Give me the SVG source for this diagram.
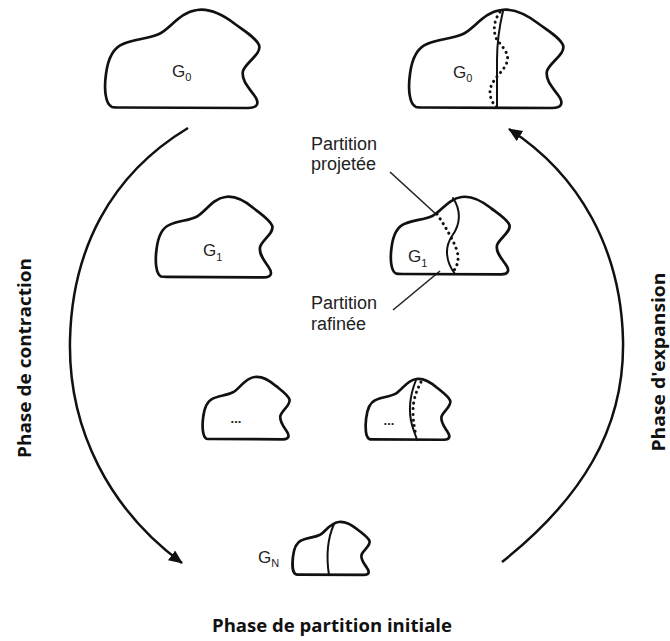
<svg xmlns="http://www.w3.org/2000/svg" width="670" height="641" viewBox="0 0 670 641">
<style>
.blob{fill:none;stroke:#111;stroke-width:2.7;stroke-linejoin:round}
.part{fill:none;stroke:#111;stroke-width:2;stroke-linecap:round}
.dots{fill:none;stroke:#111;stroke-width:3;stroke-linecap:round;stroke-dasharray:0.1 5.5}
.lbl{font-family:"Liberation Sans",Arial,sans-serif;fill:#222;font-size:17px}
.sub{font-size:11px}
.dd{font-family:"Liberation Sans",Arial,sans-serif;fill:#222;font-size:13px;font-weight:700}
.ann{font-family:"Liberation Sans",Arial,sans-serif;fill:#222;font-size:18px}
.phase{font-family:"Open Sans","Liberation Sans",sans-serif;font-weight:700;fill:#111;font-size:17px}
.conn{fill:none;stroke:#111;stroke-width:2.5}
.lead{fill:none;stroke:#222;stroke-width:1.6}
</style>
<defs>
<marker id="ah" markerUnits="userSpaceOnUse" markerWidth="16" markerHeight="14" refX="13" refY="6" orient="auto">
<path d="M0,0 L14,6 L0,12 Z" fill="#111"/>
</marker>
</defs>

<g id="connectors">
<path class="conn" d="M188,128 C110,175 72,250 70,340 C68,430 110,510 182,563" marker-end="url(#ah)"/>
<path class="conn" d="M502,562 C580,500 625,430 623,340 C621,250 580,175 509,129" marker-end="url(#ah)"/>
<line class="lead" x1="390" y1="172" x2="437" y2="215"/>
<line class="lead" x1="393" y1="310" x2="440" y2="271"/>
</g>

<g id="g0-left">
<path class="blob" vector-effect="non-scaling-stroke" d="M112,107 C105,104 104,88 106,74 C108,58 113,48 123,44 C134,39 148,39 159,34 C170,29 180,12 197,10 C210,8 222,14 235,24 C246,32 256,38 259,45 C262,54 246,62 243,71 C241,80 249,88 254,95 C260,103 258,108 248,108 L120,107.5 C116,107.5 114,107.5 112,107 Z"/>
<text class="lbl" x="172" y="77">G<tspan class="sub" dy="4">0</tspan></text>
</g>

<g id="g0-right">
<path class="blob" vector-effect="non-scaling-stroke" transform="translate(304,0)" d="M112,107 C105,104 104,88 106,74 C108,58 113,48 123,44 C134,39 148,39 159,34 C170,29 180,12 197,10 C210,8 222,14 235,24 C246,32 256,38 259,45 C262,54 246,62 243,71 C241,80 249,88 254,95 C260,103 258,108 248,108 L120,107.5 C116,107.5 114,107.5 112,107 Z"/>
<path class="part" d="M503,11 C499,28 497,42 497,60 C497,80 497,95 497,108"/>
<path class="dots" d="M500,12 C494,20 493,30 496,38 C500,45 510,52 507,62 C504,72 490,80 490,92 C490,100 494,105 497,107"/>
<text class="lbl" x="453" y="78">G<tspan class="sub" dy="4">0</tspan></text>
</g>

<g id="g1-left">
<path class="blob" vector-effect="non-scaling-stroke" transform="translate(155,197) scale(0.756,0.82) translate(-104,-10)" d="M112,107 C105,104 104,88 106,74 C108,58 113,48 123,44 C134,39 148,39 159,34 C170,29 180,12 197,10 C210,8 222,14 235,24 C246,32 256,38 259,45 C262,54 246,62 243,71 C241,80 249,88 254,95 C260,103 258,108 248,108 L120,107.5 C116,107.5 114,107.5 112,107 Z"/>
<text class="lbl" x="203" y="256">G<tspan class="sub" dy="5">1</tspan></text>
</g>

<g id="g1-right">
<path class="blob" vector-effect="non-scaling-stroke" transform="translate(390,197) scale(0.77,0.79) translate(-104,-10)" d="M112,107 C105,104 104,88 106,74 C108,58 113,48 123,44 C134,39 148,39 159,34 C170,29 180,12 197,10 C210,8 222,14 235,24 C246,32 256,38 259,45 C262,54 246,62 243,71 C241,80 249,88 254,95 C260,103 258,108 248,108 L120,107.5 C116,107.5 114,107.5 112,107 Z"/>
<path class="part" d="M453,198 C461,210 461,224 452,236 C444,248 446,262 455,274"/>
<path class="dots" d="M437,214 C445,226 452,238 456,248 C460,258 458,266 452,273"/>
<text class="lbl" x="408" y="262">G<tspan class="sub" dy="5">1</tspan></text>
<text class="ann" x="311" y="150">Partition</text>
<text class="ann" x="311" y="170">projetée</text>
<text class="ann" x="311" y="309">Partition</text>
<text class="ann" x="311" y="330">rafinée</text>
</g>

<g id="gdots-left">
<path class="blob" vector-effect="non-scaling-stroke" transform="translate(202,377) scale(0.564,0.636) translate(-104,-10)" d="M112,107 C105,104 104,88 106,74 C108,58 113,48 123,44 C134,39 148,39 159,34 C170,29 180,12 197,10 C210,8 222,14 235,24 C246,32 256,38 259,45 C262,54 246,62 243,71 C241,80 249,88 254,95 C260,103 258,108 248,108 L120,107.5 C116,107.5 114,107.5 112,107 Z"/>
<text class="dd" x="236" y="423" text-anchor="middle">...</text>
</g>

<g id="gdots-right">
<path class="blob" vector-effect="non-scaling-stroke" transform="translate(365,379) scale(0.55,0.62) translate(-104,-10)" d="M112,107 C105,104 104,88 106,74 C108,58 113,48 123,44 C134,39 148,39 159,34 C170,29 180,12 197,10 C210,8 222,14 235,24 C246,32 256,38 259,45 C262,54 246,62 243,71 C241,80 249,88 254,95 C260,103 258,108 248,108 L120,107.5 C116,107.5 114,107.5 112,107 Z"/>
<path class="part" d="M416,380 C410,395 408,410 412,425 C414,432 416,436 417,440"/>
<path class="dots" d="M421,382 C416,392 413,400 413,412 C413,422 415,430 416,436"/>
<text class="dd" x="389" y="425" text-anchor="middle">...</text>
</g>

<g id="gn">
<path class="blob" vector-effect="non-scaling-stroke" transform="translate(292,522) scale(0.5,0.54) translate(-104,-10)" d="M112,107 C105,104 104,88 106,74 C108,58 113,48 123,44 C134,39 148,39 159,34 C170,29 180,12 197,10 C210,8 222,14 235,24 C246,32 256,38 259,45 C262,54 246,62 243,71 C241,80 249,88 254,95 C260,103 258,108 248,108 L120,107.5 C116,107.5 114,107.5 112,107 Z"/>
<path class="part" d="M334,524 C327,540 326,556 329,575"/>
<text class="lbl" x="258" y="563">G<tspan class="sub" dy="4">N</tspan></text>
</g>

<g id="labels">
<text class="phase" transform="translate(31,358) rotate(-90)" text-anchor="middle" textLength="200" lengthAdjust="spacingAndGlyphs">Phase de contraction</text>
<text class="phase" transform="translate(665,362) rotate(-90)" text-anchor="middle" textLength="179" lengthAdjust="spacingAndGlyphs">Phase d'expansion</text>
<text class="phase" x="332" y="632" text-anchor="middle" textLength="240" lengthAdjust="spacingAndGlyphs">Phase de partition initiale</text>
</g>
</svg>
